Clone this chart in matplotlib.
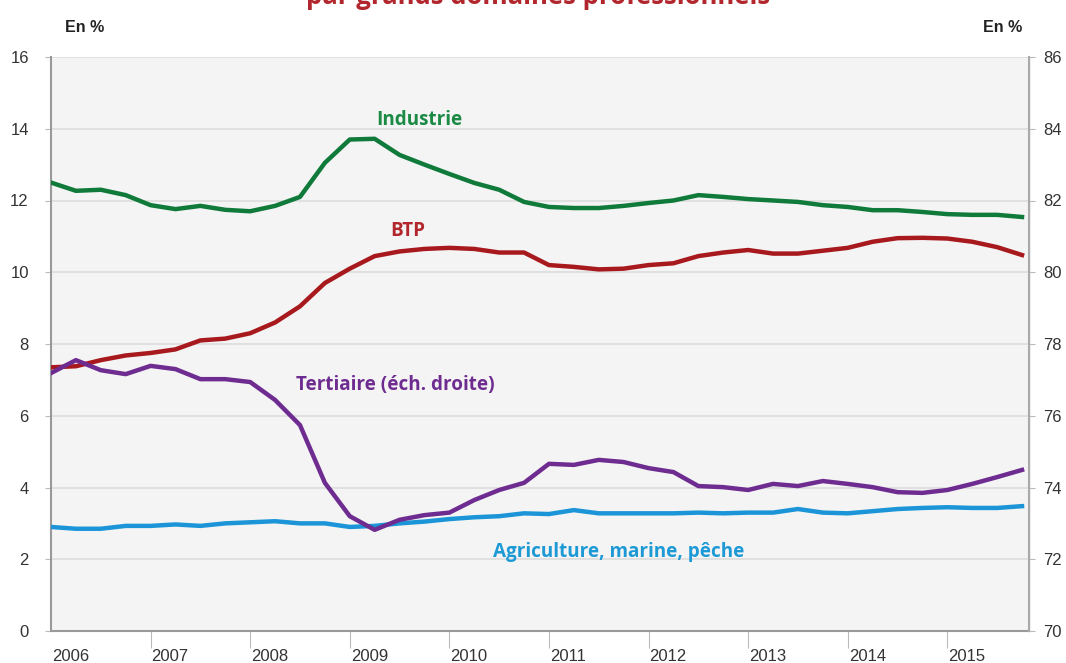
import matplotlib
matplotlib.use("Agg")
import matplotlib.pyplot as plt
import numpy as np

quarters = [2006 + 0.25 * i for i in range(40)]
years = list(range(2006, 2016))

industrie = [12.5, 12.27, 12.3, 12.15, 11.87, 11.76, 11.85, 11.74, 11.7, 11.85,
             12.1, 13.05, 13.7, 13.72, 13.27, 13.0, 12.74, 12.49, 12.3, 11.96,
             11.82, 11.79, 11.79, 11.85, 11.93, 12.0, 12.15, 12.1, 12.04, 12.0,
             11.96, 11.87, 11.82, 11.73, 11.73, 11.68, 11.62, 11.6, 11.6, 11.54]
btp = [7.35, 7.38, 7.55, 7.68, 7.75, 7.85, 8.1, 8.15, 8.3, 8.6,
       9.05, 9.7, 10.1, 10.45, 10.58, 10.65, 10.68, 10.65, 10.55, 10.55,
       10.2, 10.15, 10.08, 10.1, 10.2, 10.25, 10.45, 10.55, 10.62, 10.52,
       10.52, 10.6, 10.68, 10.85, 10.95, 10.96, 10.94, 10.85, 10.7, 10.48]
agriculture = [2.9, 2.85, 2.85, 2.93, 2.93, 2.97, 2.93, 3.0, 3.03, 3.06,
               3.0, 3.0, 2.9, 2.93, 3.0, 3.05, 3.12, 3.17, 3.2, 3.28,
               3.26, 3.37, 3.28, 3.28, 3.28, 3.28, 3.3, 3.28, 3.3, 3.3,
               3.4, 3.3, 3.28, 3.34, 3.4, 3.43, 3.45, 3.43, 3.43, 3.48]
tertiaire = [77.19, 77.55, 77.27, 77.16, 77.39, 77.3, 77.02, 77.02, 76.94, 76.44,
             75.74, 74.13, 73.2, 72.82, 73.1, 73.23, 73.3, 73.65, 73.93, 74.13,
             74.66, 74.63, 74.77, 74.71, 74.54, 74.43, 74.04, 74.01, 73.93, 74.1,
             74.04, 74.18, 74.1, 74.01, 73.87, 73.85, 73.93, 74.1, 74.29, 74.49]

left_ticks = [0, 2, 4, 6, 8, 10, 12, 14, 16]
right_ticks = [70, 72, 74, 76, 78, 80, 82, 84, 86]

c_ind = "#0f7a3a"
c_btp = "#a8191e"
c_ter = "#6e2c91"
c_agr = "#1b95d8"

tick_font = ["Liberation Sans Narrow", "Liberation Sans", "DejaVu Sans"]
lab_font = ["Open Sans", "DejaVu Sans"]

fig = plt.figure(figsize=(10.66, 6.63), dpi=100)
ax = fig.add_axes([51 / 1066, 32 / 663, (1029 - 51) / 1066, (631 - 57) / 663])
ax.set_facecolor("#f4f4f4")
ax2 = ax.twinx()

ax.plot(quarters, industrie, color=c_ind, lw=3.2, solid_joinstyle="round", zorder=3)
ax.plot(quarters, btp, color=c_btp, lw=3.2, solid_joinstyle="round", zorder=3)
ax.plot(quarters, agriculture, color=c_agr, lw=3.2, solid_joinstyle="round", zorder=3)
ax2.plot(quarters, tertiaire, color=c_ter, lw=3.2, solid_joinstyle="round", zorder=3)

ax.set_xlim(2006, 2015.82)
ax.set_ylim(0, 16)
ax2.set_ylim(70, 86)
ax.set_yticks(left_ticks)
ax2.set_yticks(right_ticks)
ax.set_yticklabels([str(t) for t in left_ticks], family=tick_font, fontsize=12, color="#333333")
ax2.set_yticklabels([str(t) for t in right_ticks], family=tick_font, fontsize=12, color="#333333")

ax.set_xticks(years[1:])
ax.set_xticklabels([])
ax.tick_params(axis="x", direction="out", length=12, width=0.8, color="#bbbbbb")
ax.tick_params(axis="y", direction="out", length=4, width=0.8, color="#bbbbbb", pad=12)
ax2.tick_params(axis="y", direction="out", length=4, width=0.8, color="#bbbbbb", pad=6)
for yr in years:
    ax.text(yr + 0.01, -0.5, str(yr), transform=ax.transData,
            ha="left", va="top", family=tick_font, fontsize=12, color="#333333", clip_on=False)

ax.grid(axis="y", color="#dcdcdc", lw=1.2)
ax.set_axisbelow(True)
for s in ["top"]:
    ax.spines[s].set_visible(False)
    ax2.spines[s].set_visible(False)
ax.spines["left"].set_color("#999999")
ax.spines["bottom"].set_color("#999999")
ax.spines["left"].set_linewidth(1.5)
ax.spines["bottom"].set_linewidth(1.5)
ax2.spines["right"].set_color("#aaaaaa")
ax2.spines["right"].set_linewidth(1.5)
ax2.spines["left"].set_visible(False)
ax2.spines["bottom"].set_visible(False)

lab_size = 13.6
ax.text(2009.7, 14.25, "Industrie", color="#1b8a45", family=lab_font, fontweight="bold",
        fontsize=lab_size, ha="center", va="center")
ax.text(2009.58, 11.15, "BTP", color="#b1272d", family=lab_font, fontweight="bold",
        fontsize=lab_size, ha="center", va="center")
ax.text(2008.46, 6.87, "Tertiaire (éch. droite)", color=c_ter, family=lab_font, fontweight="bold",
        fontsize=lab_size, ha="left", va="center")
ax.text(2010.44, 2.2, "Agriculture, marine, pêche", color="#1d9ad6", family=lab_font, fontweight="bold",
        fontsize=lab_size, ha="left", va="center")

fig.text(65 / 1066, 1 - 27 / 663, "En %", family=tick_font, fontweight="bold", fontsize=11.5,
         ha="left", va="center", color="#222222")
fig.text(1022 / 1066, 1 - 27 / 663, "En %", family=tick_font, fontweight="bold", fontsize=11.5,
         ha="right", va="center", color="#222222")
fig.text(0.505, 1 - (-3) / 663, "par grands domaines professionnels", family=lab_font,
         fontweight="bold", fontsize=18.5, ha="center", va="center", color="#b1272d")

fig.savefig("out.png", dpi=100, facecolor="white")
